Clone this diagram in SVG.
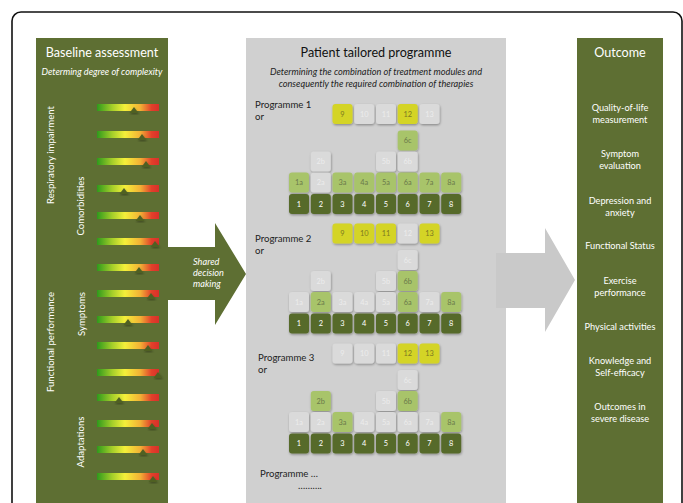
<svg xmlns="http://www.w3.org/2000/svg" width="683" height="503" viewBox="0 0 683 503">
<defs>
<linearGradient id="grad" x1="0" y1="0" x2="1" y2="0">
<stop offset="0" stop-color="#2f9a1c"/>
<stop offset="0.25" stop-color="#a6cf2a"/>
<stop offset="0.45" stop-color="#f4f03a"/>
<stop offset="0.7" stop-color="#f2b035"/>
<stop offset="0.88" stop-color="#e2402a"/>
<stop offset="1" stop-color="#d8302a"/>
</linearGradient>
<filter id="sh" x="-20%" y="-20%" width="150%" height="150%">
<feDropShadow dx="0.6" dy="1.2" stdDeviation="0.8" flood-color="#000" flood-opacity="0.35"/>
</filter>
<path id="tri" d="M-4.5,6 L0,0 L4.5,6 Z"/>
</defs>
<style>
.frame{fill:#fff;stroke:#111;stroke-width:1.6}
.olive{fill:#5e6f33}
.grey{fill:#d0d0d0}
.t{font-family:Lato,"Open Sans","Liberation Sans",sans-serif}
.w{fill:#fff}
.title{font-size:12.6px}
.sub{font-size:9.2px;font-style:italic}
.vl{font-size:9.6px;fill:#fff}
.oc{font-size:9.2px;fill:#fff;text-anchor:middle}
.pl{font-size:9.6px;fill:#222}
.bar{fill:url(#grad)}
.mk{fill:#4f6024;filter:url(#sh)}
.b rect{width:20px;height:20px;rx:3px;filter:url(#sh)}
.b text{font-size:7.4px;text-anchor:middle;font-family:Lato,"Open Sans","Liberation Sans",sans-serif}
.d rect{fill:#566a2a}
.d text{fill:#fff}
.l rect{fill:#a8c46a}
.l text{fill:#6b7a4a}
.y rect{fill:#d4d426}
.y text{fill:#7d7a22}
.f rect{fill:#dadada}
.f text{fill:#ececec}
</style>

<rect class="frame" x="12" y="12" width="670" height="520" rx="9"/>

<g id="baseline-panel">
<rect class="olive" x="36" y="38" width="132" height="470"/>
<text class="t title w" x="102" y="57" text-anchor="middle">Baseline assessment</text>
<text class="t sub w" x="102" y="75" text-anchor="middle">Determing degree of complexity</text>
<text class="t vl" transform="translate(53.5,155) rotate(-90)" text-anchor="middle">Respiratory impairment</text>
<text class="t vl" transform="translate(84,206) rotate(-90)" text-anchor="middle">Comorbidities</text>
<text class="t vl" transform="translate(53.5,342) rotate(-90)" text-anchor="middle">Functional performance</text>
<text class="t vl" transform="translate(85,314) rotate(-90)" text-anchor="middle">Symptoms</text>
<text class="t vl" transform="translate(84,442) rotate(-90)" text-anchor="middle">Adaptations</text>
</g>

<g id="sliders">
<rect class="bar" x="97" y="104" width="62" height="7"/>
<rect class="bar" x="97" y="131" width="62" height="7"/>
<rect class="bar" x="97" y="158" width="62" height="7"/>
<rect class="bar" x="97" y="185" width="62" height="7"/>
<rect class="bar" x="97" y="212" width="62" height="7"/>
<rect class="bar" x="97" y="238" width="62" height="7"/>
<rect class="bar" x="97" y="264" width="62" height="7"/>
<rect class="bar" x="97" y="290" width="62" height="7"/>
<rect class="bar" x="97" y="316" width="62" height="7"/>
<rect class="bar" x="97" y="342" width="62" height="7"/>
<rect class="bar" x="97" y="369" width="62" height="7"/>
<rect class="bar" x="97" y="394" width="62" height="7"/>
<rect class="bar" x="97" y="420" width="62" height="7"/>
<rect class="bar" x="97" y="446" width="62" height="7"/>
<rect class="bar" x="97" y="473" width="62" height="7"/>
<use href="#tri" class="mk" x="134" y="107"/>
<use href="#tri" class="mk" x="142" y="134"/>
<use href="#tri" class="mk" x="146" y="161"/>
<use href="#tri" class="mk" x="124" y="188"/>
<use href="#tri" class="mk" x="140" y="215"/>
<use href="#tri" class="mk" x="155" y="241"/>
<use href="#tri" class="mk" x="139" y="267"/>
<use href="#tri" class="mk" x="151" y="293"/>
<use href="#tri" class="mk" x="128" y="319"/>
<use href="#tri" class="mk" x="148" y="345"/>
<use href="#tri" class="mk" x="158" y="372"/>
<use href="#tri" class="mk" x="119" y="397"/>
<use href="#tri" class="mk" x="152" y="423"/>
<use href="#tri" class="mk" x="143" y="449"/>
<use href="#tri" class="mk" x="153" y="476"/>
</g>

<g id="programme-panel">
<rect class="grey" x="246" y="38" width="260" height="470"/>
<text class="t title" x="376" y="57" text-anchor="middle" fill="#111">Patient tailored programme</text>
<text class="t sub" x="376" y="75" text-anchor="middle" fill="#222">Determining the combination of treatment modules and</text>
<text class="t sub" x="376" y="87" text-anchor="middle" fill="#222">consequently the required combination of therapies</text>
<text class="t pl" x="255" y="108">Programme 1</text>
<text class="t pl" x="255" y="120">or</text>
<text class="t pl" x="255" y="242">Programme 2</text>
<text class="t pl" x="255" y="254">or</text>
<text class="t pl" x="258" y="361">Programme 3</text>
<text class="t pl" x="258" y="373">or</text>
<text class="t pl" x="260" y="477">Programme …</text>
<text class="t pl" x="298" y="489">……….</text>
</g>

<g id="connectors">
<path d="M167,247 H215 V223 L246,274 L215,325 V300 H167 Z" class="olive"/>
<text class="t sub w" x="193" y="265">Shared</text>
<text class="t sub w" x="193" y="276">decision</text>
<text class="t sub w" x="193" y="287">making</text>
<path d="M496,253 H545 V228 L575,280 L545,332 V308 H496 Z" fill="#c9c9c9"/>
</g>

<g id="programme-1">
<g class="b y" id="p1-9"><rect x="332.5" y="104"/><text x="342.5" y="116.5">9</text></g>
<g class="b f" id="p1-10"><rect x="354.2" y="104"/><text x="364.2" y="116.5">10</text></g>
<g class="b f" id="p1-11"><rect x="376" y="104"/><text x="386" y="116.5">11</text></g>
<g class="b y" id="p1-12"><rect x="397.7" y="104"/><text x="407.7" y="116.5">12</text></g>
<g class="b f" id="p1-13"><rect x="419.5" y="104"/><text x="429.5" y="116.5">13</text></g>
<g class="b l" id="p1-6c"><rect x="397.7" y="130.5"/><text x="407.7" y="143">6c</text></g>
<g class="b f" id="p1-2b"><rect x="310.8" y="151.5"/><text x="320.8" y="164">2b</text></g>
<g class="b f" id="p1-5b"><rect x="376" y="151.5"/><text x="386" y="164">5b</text></g>
<g class="b f" id="p1-6b"><rect x="397.7" y="151.5"/><text x="407.7" y="164">6b</text></g>
<g class="b l" id="p1-1a"><rect x="289" y="172.5"/><text x="299" y="185">1a</text></g>
<g class="b f" id="p1-2a"><rect x="310.8" y="172.5"/><text x="320.8" y="185">2a</text></g>
<g class="b l" id="p1-3a"><rect x="332.5" y="172.5"/><text x="342.5" y="185">3a</text></g>
<g class="b l" id="p1-4a"><rect x="354.2" y="172.5"/><text x="364.2" y="185">4a</text></g>
<g class="b l" id="p1-5a"><rect x="376" y="172.5"/><text x="386" y="185">5a</text></g>
<g class="b l" id="p1-6a"><rect x="397.7" y="172.5"/><text x="407.7" y="185">6a</text></g>
<g class="b l" id="p1-7a"><rect x="419.5" y="172.5"/><text x="429.5" y="185">7a</text></g>
<g class="b l" id="p1-8a"><rect x="441.2" y="172.5"/><text x="451.2" y="185">8a</text></g>
<g class="b d" id="p1-1"><rect x="289" y="194"/><text x="299" y="206.5">1</text></g>
<g class="b d" id="p1-2"><rect x="310.8" y="194"/><text x="320.8" y="206.5">2</text></g>
<g class="b d" id="p1-3"><rect x="332.5" y="194"/><text x="342.5" y="206.5">3</text></g>
<g class="b d" id="p1-4"><rect x="354.2" y="194"/><text x="364.2" y="206.5">4</text></g>
<g class="b d" id="p1-5"><rect x="376" y="194"/><text x="386" y="206.5">5</text></g>
<g class="b d" id="p1-6"><rect x="397.7" y="194"/><text x="407.7" y="206.5">6</text></g>
<g class="b d" id="p1-7"><rect x="419.5" y="194"/><text x="429.5" y="206.5">7</text></g>
<g class="b d" id="p1-8"><rect x="441.2" y="194"/><text x="451.2" y="206.5">8</text></g>
</g>

<g id="programme-2" transform="translate(0,119.5)">
<g class="b y" id="p2-9"><rect x="332.5" y="104"/><text x="342.5" y="116.5">9</text></g>
<g class="b y" id="p2-10"><rect x="354.2" y="104"/><text x="364.2" y="116.5">10</text></g>
<g class="b y" id="p2-11"><rect x="376" y="104"/><text x="386" y="116.5">11</text></g>
<g class="b f" id="p2-12"><rect x="397.7" y="104"/><text x="407.7" y="116.5">12</text></g>
<g class="b y" id="p2-13"><rect x="419.5" y="104"/><text x="429.5" y="116.5">13</text></g>
<g class="b f" id="p2-6c"><rect x="397.7" y="130.5"/><text x="407.7" y="143">6c</text></g>
<g class="b f" id="p2-2b"><rect x="310.8" y="151.5"/><text x="320.8" y="164">2b</text></g>
<g class="b f" id="p2-5b"><rect x="376" y="151.5"/><text x="386" y="164">5b</text></g>
<g class="b l" id="p2-6b"><rect x="397.7" y="151.5"/><text x="407.7" y="164">6b</text></g>
<g class="b f" id="p2-1a"><rect x="289" y="172.5"/><text x="299" y="185">1a</text></g>
<g class="b l" id="p2-2a"><rect x="310.8" y="172.5"/><text x="320.8" y="185">2a</text></g>
<g class="b f" id="p2-3a"><rect x="332.5" y="172.5"/><text x="342.5" y="185">3a</text></g>
<g class="b f" id="p2-4a"><rect x="354.2" y="172.5"/><text x="364.2" y="185">4a</text></g>
<g class="b f" id="p2-5a"><rect x="376" y="172.5"/><text x="386" y="185">5a</text></g>
<g class="b l" id="p2-6a"><rect x="397.7" y="172.5"/><text x="407.7" y="185">6a</text></g>
<g class="b f" id="p2-7a"><rect x="419.5" y="172.5"/><text x="429.5" y="185">7a</text></g>
<g class="b l" id="p2-8a"><rect x="441.2" y="172.5"/><text x="451.2" y="185">8a</text></g>
<g class="b d" id="p2-1"><rect x="289" y="194"/><text x="299" y="206.5">1</text></g>
<g class="b d" id="p2-2"><rect x="310.8" y="194"/><text x="320.8" y="206.5">2</text></g>
<g class="b d" id="p2-3"><rect x="332.5" y="194"/><text x="342.5" y="206.5">3</text></g>
<g class="b d" id="p2-4"><rect x="354.2" y="194"/><text x="364.2" y="206.5">4</text></g>
<g class="b d" id="p2-5"><rect x="376" y="194"/><text x="386" y="206.5">5</text></g>
<g class="b d" id="p2-6"><rect x="397.7" y="194"/><text x="407.7" y="206.5">6</text></g>
<g class="b d" id="p2-7"><rect x="419.5" y="194"/><text x="429.5" y="206.5">7</text></g>
<g class="b d" id="p2-8"><rect x="441.2" y="194"/><text x="451.2" y="206.5">8</text></g>
</g>

<g id="programme-3" transform="translate(0,239.5)">
<g class="b f" id="p3-9"><rect x="332.5" y="104"/><text x="342.5" y="116.5">9</text></g>
<g class="b f" id="p3-10"><rect x="354.2" y="104"/><text x="364.2" y="116.5">10</text></g>
<g class="b f" id="p3-11"><rect x="376" y="104"/><text x="386" y="116.5">11</text></g>
<g class="b y" id="p3-12"><rect x="397.7" y="104"/><text x="407.7" y="116.5">12</text></g>
<g class="b y" id="p3-13"><rect x="419.5" y="104"/><text x="429.5" y="116.5">13</text></g>
<g class="b f" id="p3-6c"><rect x="397.7" y="130.5"/><text x="407.7" y="143">6c</text></g>
<g class="b l" id="p3-2b"><rect x="310.8" y="151.5"/><text x="320.8" y="164">2b</text></g>
<g class="b f" id="p3-5b"><rect x="376" y="151.5"/><text x="386" y="164">5b</text></g>
<g class="b l" id="p3-6b"><rect x="397.7" y="151.5"/><text x="407.7" y="164">6b</text></g>
<g class="b f" id="p3-1a"><rect x="289" y="172.5"/><text x="299" y="185">1a</text></g>
<g class="b f" id="p3-2a"><rect x="310.8" y="172.5"/><text x="320.8" y="185">2a</text></g>
<g class="b l" id="p3-3a"><rect x="332.5" y="172.5"/><text x="342.5" y="185">3a</text></g>
<g class="b f" id="p3-4a"><rect x="354.2" y="172.5"/><text x="364.2" y="185">4a</text></g>
<g class="b f" id="p3-5a"><rect x="376" y="172.5"/><text x="386" y="185">5a</text></g>
<g class="b f" id="p3-6a"><rect x="397.7" y="172.5"/><text x="407.7" y="185">6a</text></g>
<g class="b f" id="p3-7a"><rect x="419.5" y="172.5"/><text x="429.5" y="185">7a</text></g>
<g class="b l" id="p3-8a"><rect x="441.2" y="172.5"/><text x="451.2" y="185">8a</text></g>
<g class="b d" id="p3-1"><rect x="289" y="194"/><text x="299" y="206.5">1</text></g>
<g class="b d" id="p3-2"><rect x="310.8" y="194"/><text x="320.8" y="206.5">2</text></g>
<g class="b d" id="p3-3"><rect x="332.5" y="194"/><text x="342.5" y="206.5">3</text></g>
<g class="b d" id="p3-4"><rect x="354.2" y="194"/><text x="364.2" y="206.5">4</text></g>
<g class="b d" id="p3-5"><rect x="376" y="194"/><text x="386" y="206.5">5</text></g>
<g class="b d" id="p3-6"><rect x="397.7" y="194"/><text x="407.7" y="206.5">6</text></g>
<g class="b d" id="p3-7"><rect x="419.5" y="194"/><text x="429.5" y="206.5">7</text></g>
<g class="b d" id="p3-8"><rect x="441.2" y="194"/><text x="451.2" y="206.5">8</text></g>
</g>

<g id="outcome-panel">
<rect class="olive" x="577" y="38" width="86" height="470"/>
<text class="t title w" x="620" y="57" text-anchor="middle">Outcome</text>
<text class="t oc" x="620" y="111">Quality-of-life</text>
<text class="t oc" x="620" y="123">measurement</text>
<text class="t oc" x="620" y="157">Symptom</text>
<text class="t oc" x="620" y="169">evaluation</text>
<text class="t oc" x="620" y="204">Depression and</text>
<text class="t oc" x="620" y="216">anxiety</text>
<text class="t oc" x="620" y="249">Functional Status</text>
<text class="t oc" x="620" y="284">Exercise</text>
<text class="t oc" x="620" y="296">performance</text>
<text class="t oc" x="620" y="330">Physical activities</text>
<text class="t oc" x="620" y="364">Knowledge and</text>
<text class="t oc" x="620" y="376">Self-efficacy</text>
<text class="t oc" x="620" y="410">Outcomes in</text>
<text class="t oc" x="620" y="422">severe disease</text>
</g>
</svg>
